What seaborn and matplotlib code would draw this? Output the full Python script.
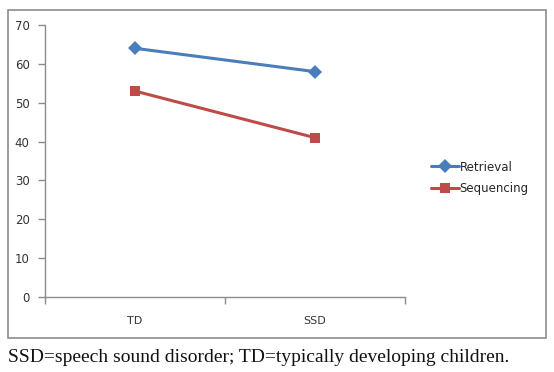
import matplotlib
matplotlib.use("Agg")
import matplotlib.pyplot as plt
from matplotlib.patches import Rectangle
import pandas as pd
import seaborn as sns

groups = ["TD", "SSD"]
retrieval = [64, 58]
sequencing = [53, 41]
series_names = ["Retrieval", "Sequencing"]
y_ticks = [0, 10, 20, 30, 40, 50, 60, 70]
caption = "SSD=speech sound disorder; TD=typically developing children."

df = pd.DataFrame({
    "group": groups * 2,
    "score": retrieval + sequencing,
    "series": [series_names[0]] * 2 + [series_names[1]] * 2,
})

sns.set_style("white")
plt.rcParams["font.family"] = ["DejaVu Sans"]

fig = plt.figure(figsize=(5.54, 3.72), dpi=100)
ax = fig.add_axes([45 / 554, 1 - 297 / 372, 360 / 554, 272 / 372])

palette = {"Retrieval": "#4A7EBB", "Sequencing": "#BE4B48"}
sns.lineplot(data=df, x="group", y="score", hue="series", style="series",
             markers={"Retrieval": "D", "Sequencing": "s"}, dashes=False,
             palette=palette, linewidth=2.2, markersize=7, markeredgewidth=0,
             sort=False, ax=ax)

ax.set_xlim(-0.5, 1.5)
ax.set_ylim(0, 70)
ax.set_yticks(y_ticks)
ax.set_xticks([0, 1])
ax.set_xticklabels(groups)
ax.set_xticks([-0.5, 0.5, 1.5], minor=True)
ax.set_xlabel("")
ax.set_ylabel("")
for s in ["top", "right"]:
    ax.spines[s].set_visible(False)
for s in ["left", "bottom"]:
    ax.spines[s].set_color("#8c8c8c")
    ax.spines[s].set_linewidth(1)
ax.tick_params(axis="y", which="major", direction="out", length=5, width=1,
               color="#8c8c8c", labelsize=8.5, labelcolor="#333333", pad=6, left=True)
ax.tick_params(axis="x", which="major", length=0, labelsize=8,
               labelcolor="#333333", pad=14)
ax.tick_params(axis="x", which="minor", direction="out", length=5, width=1,
               color="#8c8c8c", bottom=True)

leg = ax.legend(loc="center left", bbox_to_anchor=(426 / 554, 1 - 178 / 372),
                bbox_transform=fig.transFigure, frameon=False, fontsize=8.5,
                handlelength=2.4, handletextpad=0.05, labelspacing=0.75,
                borderaxespad=0, markerscale=0.95)

fig.patches.append(Rectangle((8 / 554, 1 - 338 / 372), 538 / 554, 328 / 372,
                             transform=fig.transFigure, fill=False,
                             edgecolor="#8c8c8c", linewidth=1.2))

fig.text(8 / 554, 1 - 357 / 372, caption, fontsize=14,
         family=["Liberation Serif", "DejaVu Serif"], va="center", ha="left",
         color="#111111")

fig.savefig("out.png", dpi=100)
